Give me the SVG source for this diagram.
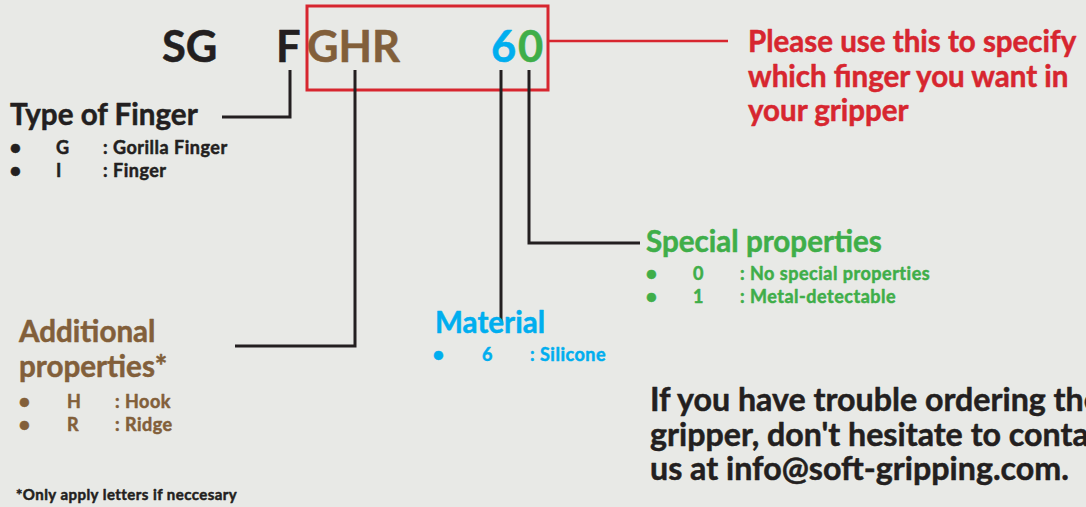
<svg xmlns="http://www.w3.org/2000/svg" width="1086" height="507" viewBox="0 0 1086 507">
<style>
text{font-family:Lato,"Liberation Sans",sans-serif;font-weight:bold;stroke-width:0.5;stroke-linejoin:round}
.k{fill:#231f20;stroke:#231f20}.b{fill:#825f3a;stroke:#825f3a}.c{fill:#00aeef;stroke:#00aeef}.g{fill:#3fae49;stroke:#3fae49}.r{fill:#d7262f;stroke:#d7262f}
.h{font-size:29.6px}.s{font-size:18px;letter-spacing:0.5px}.big{font-size:43.5px}.red{font-size:29.5px}.ct{font-size:32.2px}
.ln{fill:none;stroke:#231f20;stroke-width:3}
</style>
<rect width="1086" height="507" fill="#e8e9e6"/>
<g id="code">
<text class="big k" x="162" y="62">SG</text>
<text class="big k" x="276" y="62">F</text>
<text class="big b" x="307" y="62">GHR</text>
<text class="big c" x="491" y="62">6</text>
<text class="big g" x="518" y="62">0</text>
<rect x="307" y="6" width="241" height="84" fill="none" stroke="#d7262f" stroke-width="3"/>
</g>
<g id="connectors">
<path class="ln" d="M290 70V117H222"/>
<path class="ln" d="M355 70V346H235"/>
<path class="ln" d="M501 70V322"/>
<path class="ln" d="M529 70V243H640"/>
<path d="M548 41H728" fill="none" stroke="#d7262f" stroke-width="2.5"/>
</g>
<g id="note-red">
<text class="red r" x="748" y="51.5">Please use this to specify</text>
<text class="red r" x="748" y="86.5">which finger you want in</text>
<text class="red r" x="748" y="120.5">your gripper</text>
</g>
<g id="type">
<text class="h k" x="10" y="125">Type of Finger</text>
<text class="s k" x="10" y="154">●</text><text class="s k" x="56" y="154">G</text><text class="s k" x="103" y="154">: Gorilla Finger</text>
<text class="s k" x="10" y="177">●</text><text class="s k" x="56" y="177">I</text><text class="s k" x="103" y="177">: Finger</text>
</g>
<g id="special">
<text class="h g" x="646" y="252">Special properties</text>
<text class="s g" x="646" y="280">●</text><text class="s g" x="693" y="280">0</text><text class="s g" x="740" y="280">: No special properties</text>
<text class="s g" x="646" y="303">●</text><text class="s g" x="693" y="303">1</text><text class="s g" x="740" y="303">: Metal-detectable</text>
</g>
<g id="additional">
<text class="h b" x="19" y="341.5">Additional</text>
<text class="h b" x="19" y="376.5">properties*</text>
<text class="s b" x="19" y="408">●</text><text class="s b" x="67" y="408">H</text><text class="s b" x="115" y="408">: Hook</text>
<text class="s b" x="19" y="431">●</text><text class="s b" x="67" y="431">R</text><text class="s b" x="115" y="431">: Ridge</text>
<text class="k" style="font-size:15px;letter-spacing:0.45px" x="16" y="500">*Only apply letters if neccesary</text>
</g>
<g id="material">
<text class="h c" x="435" y="333">Material</text>
<text class="s c" x="433" y="361">●</text><text class="s c" x="482" y="361">6</text><text class="s c" x="530" y="361">: Silicone</text>
</g>
<g id="contact">
<text class="ct k" x="650" y="411">If you have trouble ordering the</text>
<text class="ct k" x="650" y="446">gripper, don't hesitate to contact</text>
<text class="ct k" x="650" y="480">us at info@soft-gripping.com.</text>
</g>
</svg>
